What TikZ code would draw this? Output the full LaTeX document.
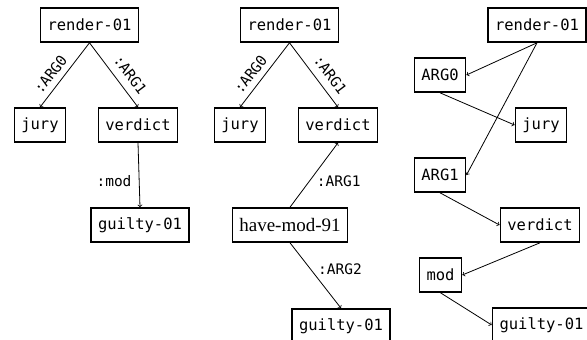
\documentclass[tikz,border=0pt]{standalone}
\usepackage{fontspec}
\setmonofont{DejaVu Sans Mono}
\newfontfamily\amrserif{Liberation Serif}
\usetikzlibrary{arrows}

\begin{document}
\begin{tikzpicture}[x=1pt,y=-1pt,
        box/.style={draw,line width=1.6pt,minimum height=34pt,inner xsep=7pt,
            font=\fontsize{15.5}{18}\selectfont\ttfamily},
        lab/.style={font=\fontsize{14.5}{17}\selectfont\ttfamily},
        edge/.style={->,line width=0.8pt}]
        \useasboundingbox (0,0) rectangle (587,340);

        % 第一棵树
        \node[box] (r1) at (89.5,25) {render-01};
        \node[box] (j1) at (40,125) {jury};
        \node[box] (v1) at (138,125) {verdict};
        \node[box] (g1) at (140,225) {guilty-01};
        \draw[edge] (r1.south) -- node[lab,sloped,pos=0.6,above=2.5pt] {:ARG0} (j1.north);
        \draw[edge] (r1.south) -- node[lab,sloped,pos=0.62,above=4.5pt] {:ARG1} (v1.north);
        \draw[edge] (v1.south) -- node[lab,pos=0.6,left=4pt] {:mod} (g1.north);

        % 第二棵树
        \node[box] (r2) at (289.5,25) {render-01};
        \node[box] (j2) at (240,125) {jury};
        \node[box] (v2) at (338,125) {verdict};
        \node[box,font=\amrserif\fontsize{19}{22}\selectfont] (h2) at (290,225) {have-mod-91};
        \node[box] (g2) at (341,326) {guilty-01};
        \draw[edge] (r2.south) -- node[lab,sloped,pos=0.6,above=2.5pt] {:ARG0} (j2.north);
        \draw[edge] (r2.south) -- node[lab,sloped,pos=0.62,above=4.5pt] {:ARG1} (v2.north);
        \draw[edge] (h2.north) -- node[lab,pos=0.4,right=4pt] {:ARG1} (v2.south);
        \draw[edge] (h2.south) -- node[lab,pos=0.4,right=4pt] {:ARG2} (g2.north);

        % 第三棵树
        \node[box] (r3) at (537,25) {render-01};
        \node[box] (a0) at (440,75) {ARG0};
        \node[box] (j3) at (541,125) {jury};
        \node[box] (a1) at (440,175) {ARG1};
        \node[box] (v3) at (540,225) {verdict};
        \node[box] (m3) at (440.5,275) {mod};
        \node[box] (g3) at (541.5,325) {guilty-01};
        \draw[edge] (r3.south) -- (a0.east);
        \draw[edge] (r3.south) -- (a1.east);
        \draw[edge] (a0.south) -- (j3.west);
        \draw[edge] (a1.south) -- (v3.west);
        \draw[edge] (v3.south) -- (m3.east);
        \draw[edge] (m3.south) -- (g3.west);
    \end{tikzpicture}
\end{document}
